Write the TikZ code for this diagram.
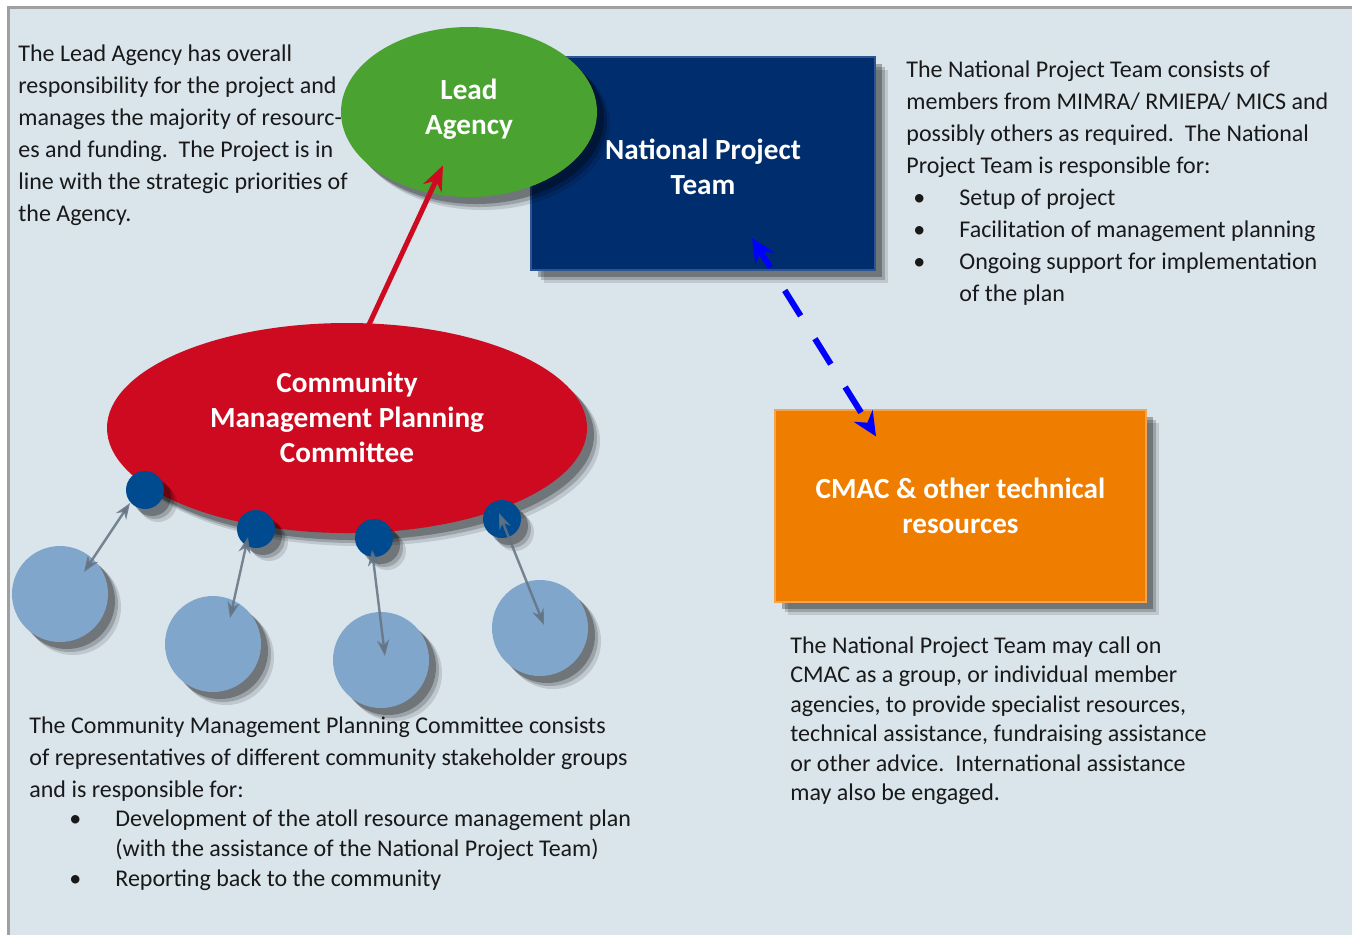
\documentclass[tikz,border=0pt]{standalone}
\usepackage{fontspec}
\setmainfont{Carlito}
\usetikzlibrary{arrows.meta, positioning, shapes.geometric, shadows}

\definecolor{paneback}{RGB}{217,228,235}
\definecolor{paneedge}{RGB}{160,160,160}
\definecolor{leadgreen}{RGB}{74,163,49}
\definecolor{nptblue}{RGB}{0,45,110}
\definecolor{nptedge}{RGB}{45,85,145}
\definecolor{cmpcred}{RGB}{205,10,32}
\definecolor{cmacorange}{RGB}{239,125,0}
\definecolor{dotblue}{RGB}{0,74,143}
\definecolor{groupblue}{RGB}{129,166,203}
\definecolor{linkgray}{RGB}{100,115,130}

\newcommand{\bulletat}[1]{\hspace*{#1}\makebox[23pt][l]{\textbullet}}

\begin{document}
\begin{tikzpicture}[x=0.5pt, y=-0.5pt,
  softshadow/.style={
    general shadow={fill=black, opacity=0.12, shadow xshift=6.5pt, shadow yshift=-6.5pt},
    general shadow={fill=black, opacity=0.18, shadow xshift=5pt, shadow yshift=-5pt},
    general shadow={fill=black, opacity=0.28, shadow xshift=3.5pt, shadow yshift=-3.5pt}},
  title/.style={font=\fontsize{14.6}{17.5}\selectfont\bfseries, text=white, align=center},
  blurb/.style={anchor=north west, inner sep=0pt, align=left,
                font=\fontsize{12}{16}\selectfont, text=black!90},
  dot/.style={softshadow, circle, fill=dotblue, minimum size=19pt, inner sep=0pt},
  group/.style={softshadow, circle, fill=groupblue, minimum size=48pt, inner sep=0pt},
  memberlink/.style={{Stealth[length=8pt,width=6pt]}-{Stealth[length=8pt,width=6pt]},
                     line width=1.2pt, linkgray, opacity=0.85}
]
  \useasboundingbox (0,0) rectangle (1352,934);
  \draw[paneedge, line width=1.5pt, fill=paneback] (8,7) rectangle (1370,950);

  % boxes and ellipses
  \node[softshadow, draw=nptedge, line width=1pt, fill=nptblue,
        minimum width=172pt, minimum height=106.5pt,
        label={[title, yshift=-1.5pt]center:{National Project\\Team}}] (npt) at (703,163.5) {};
  \node[softshadow, ellipse, fill=leadgreen, minimum width=128pt, minimum height=85pt, inner sep=0pt,
        label={[title, yshift=1.5pt]center:{Lead\\Agency}}] (lead) at (469,112) {};
  \node[softshadow, ellipse, fill=cmpcred, minimum width=240pt, minimum height=105pt, inner sep=0pt,
        label={[title, yshift=5.5pt]center:{Community\\Management Planning\\Committee}}] (cmpc) at (347,428) {};
  \node[softshadow, draw=cmacorange!70!white, line width=0.6pt, fill=cmacorange,
        minimum width=185.5pt, minimum height=96pt, title] (cmac) at (960.5,506) {CMAC \& other technical\\resources};

  % stakeholder groups
  \node[dot] (d1) at (145,490) {};
  \node[dot] (d2) at (256,529) {};
  \node[dot] (d3) at (374,538) {};
  \node[dot] (d4) at (502,519) {};
  \node[group] (g1) at (60,594) {};
  \node[group] (g2) at (213,644) {};
  \node[group] (g3) at (381,660) {};
  \node[group] (g4) at (540,628) {};

  % connectors
  \draw[-{Stealth[length=12.5pt,width=10pt]}, line width=2.5pt, cmpcred]
    ([xshift=7.5pt,yshift=-8.5pt]cmpc.north) -- ([xshift=-13pt,yshift=16pt]lead.south);
  \draw[{Stealth[length=12pt,width=11pt]}-{Stealth[length=12pt,width=11pt]}, line width=3pt,
        blue, dash pattern=on 15pt off 13.5pt, dash phase=5pt]
    ([xshift=24.5pt,yshift=16.5pt]npt.south) -- ([xshift=-42.25pt,yshift=-13.5pt]cmac.north);
  \draw[memberlink] ([xshift=-7.5pt,yshift=-6.5pt]d1.center) -- ([xshift=12pt,yshift=11pt]g1.center);
  \draw[memberlink] ([xshift=-4pt,yshift=-4pt]d2.center) -- ([xshift=8.5pt,yshift=13pt]g2.center);
  \draw[memberlink] ([xshift=-1pt,yshift=-6pt]d3.center) -- ([xshift=2pt,yshift=2pt]g3.center);
  \draw[memberlink] ([xshift=-1.5pt,yshift=3pt]d4.center) -- ([xshift=2pt,yshift=1.5pt]g4.center);

  % descriptions
  \node[blurb] (leadnote) at (18,44) {The Lead Agency has overall\\
    responsibility for the project and\\
    manages the majority of resourc-\\
    es and funding.\ \ The Project is in\\
    line with the strategic priorities of\\
    the Agency.};
  \node[blurb] (nptnote) at (906,60) {The National Project Team consists of\\
    members from MIMRA/ RMIEPA/ MICS and\\
    possibly others as required.\ \ The National\\
    Project Team is responsible for:\\
    \bulletat{3.5pt}Setup of project\\
    \bulletat{3.5pt}Facilitation of management planning\\
    \bulletat{3.5pt}Ongoing support for implementation\\
    \hspace*{26.5pt}of the plan};
  \node[blurb, font=\fontsize{12}{14.75}\selectfont] (cmacnote) at (790,636) {The National Project Team may call on\\
    CMAC as a group, or individual member\\
    agencies, to provide specialist resources,\\
    technical assistance, fundraising assistance\\
    or other advice.\ \ International assistance\\
    may also be engaged.};
  \node[blurb] (cmpcnote) at (29,716) {The Community Management Planning Committee consists\\
    of representatives of different community stakeholder groups\\
    and is responsible for:\\[-1.5pt]
    \bulletat{20pt}Development of the atoll resource management plan\\[-1pt]
    \hspace*{43pt}(with the assistance of the National Project Team)\\[-1pt]
    \bulletat{20pt}Reporting back to the community};
\end{tikzpicture}
\end{document}
